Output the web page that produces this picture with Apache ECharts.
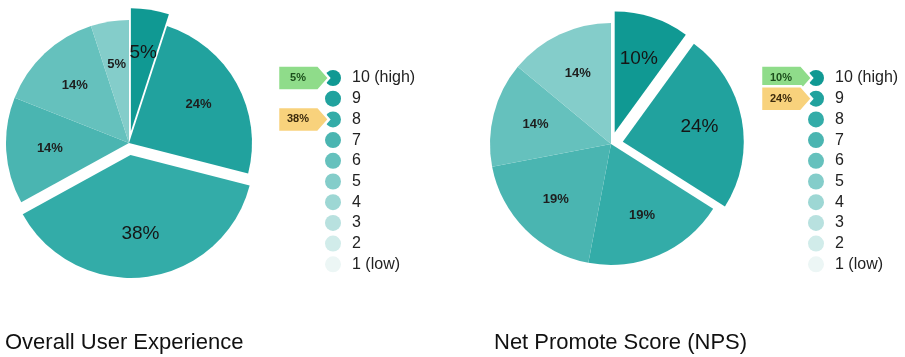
<!DOCTYPE html>
<html>
<head>
<meta charset="utf-8">
<script src="https://cdn.jsdelivr.net/npm/echarts@6/dist/echarts.min.js"></script>
<style>
  html, body { margin: 0; padding: 0; background: #fff; }
  #chart { width: 905px; height: 357px; }
</style>
</head>
<body>
<div id="chart"></div>
<script>
// score levels, top of legend first
const levels = ['10 (high)', '9', '8', '7', '6', '5', '4', '3', '2', '1 (low)'];
// percent of answers per level
const uxValues = [5, 24, 38, 14, 14, 5, 0, 0, 0, 0];
const npsValues = [10, 24, 19, 19, 14, 14, 0, 0, 0, 0];
// levels pulled out of the pie and tagged next to the legend (green, yellow)
const uxTagged = ['10 (high)', '8'];
const npsTagged = ['10 (high)', '9'];
const titles = ['Overall User Experience', 'Net Promote Score (NPS)'];

const palette = ['#109993', '#21a29e', '#33aca8', '#4ab5b1', '#65c1bd',
                 '#84cdca', '#9dd7d4', '#b8e1df', '#d1ecea', '#ecf6f5'];
const tagColors = [
    { fill: '#8fdc8a', text: '#1c4f1c' },
    { fill: '#f8d27c', text: '#3b2a0c' }
];

const font = '"Liberation Sans", Arial, Helvetica, sans-serif';
const bigLabel = { fontSize: 19, fontWeight: 'normal', color: '#151515' };
const smallLabel = { fontSize: 13, fontWeight: 'bold', color: '#1e1e1e' };

// layout of the two panels
const panels = [
    { values: uxValues, tagged: uxTagged, center: [129, 143], r: 123, legendLeft: 325, titleLeft: 5 },
    { values: npsValues, tagged: npsTagged, center: [611, 144], r: 121, legendLeft: 808, titleLeft: 494 }
];
const legendTop = 70;
const iconSize = 16;
const rowGap = 4.7;

function buildData(values, tagged, forLabels) {
    return levels.map((name, i) => {
        let sel = tagged.indexOf(name) >= 0;
        let item = {
            name: name,
            value: values[i],
            selected: sel,
            itemStyle: { color: forLabels ? 'rgba(0,0,0,0)' : palette[i] }
        };
        if (forLabels) {
            item.label = sel ? bigLabel : smallLabel;
        }
        return item;
    });
}

let series = [], legends = [], titleList = [], graphics = [];

panels.forEach((p, k) => {
    // the visible pie
    series.push({
        type: 'pie',
        center: p.center,
        radius: [0, p.r],
        startAngle: 90,
        clockwise: true,
        selectedMode: 'multiple',
        selectedOffset: 12,
        animation: false,
        silent: true,
        label: { show: false },
        labelLine: { show: false },
        itemStyle: { borderWidth: 0 },
        data: buildData(p.values, p.tagged, false)
    });
    // transparent copy carrying the labels a bit further out than mid radius
    series.push({
        type: 'pie',
        center: p.center,
        radius: [0, p.r * 1.24],
        startAngle: 90,
        clockwise: true,
        selectedMode: 'multiple',
        selectedOffset: 12,
        animation: false,
        silent: true,
        label: {
            show: true,
            position: 'inside',
            fontFamily: font,
            formatter: (prm) => prm.value ? prm.value + '%' : ''
        },
        labelLine: { show: false },
        data: buildData(p.values, p.tagged, true)
    });

    legends.push({
        orient: 'vertical',
        left: p.legendLeft,
        top: legendTop,
        padding: 0,
        icon: 'circle',
        itemWidth: iconSize,
        itemHeight: iconSize,
        itemGap: rowGap,
        selectedMode: false,
        data: levels,
        textStyle: {
            fontFamily: font,
            fontSize: 16,
            lineHeight: 16,
            color: '#222',
            padding: [0, 0, 0, 6]
        }
    });

    titleList.push({
        text: titles[k],
        left: p.titleLeft,
        top: 332,
        padding: 0,
        textStyle: { fontFamily: font, fontSize: 22, fontWeight: 'normal', color: '#111' }
    });

    // callout tags pointing at the legend markers of the pulled-out slices
    p.tagged.forEach((name, t) => {
        let idx = levels.indexOf(name);
        let cy = legendTop + iconSize / 2 + idx * (iconSize + rowGap);
        let tip = p.legendLeft + 4;
        let h = 25, body = 40, arrow = 11;
        let x0 = tip - arrow - body;
        graphics.push({
            type: 'polygon',
            z: 100,
            shape: {
                points: [[x0, cy - h / 2], [tip - arrow, cy - h / 2], [tip, cy],
                         [tip - arrow, cy + h / 2], [x0, cy + h / 2]]
            },
            style: { fill: tagColors[t].fill, stroke: '#fff', lineWidth: 2.5 }
        });
        graphics.push({
            type: 'text',
            z: 101,
            x: x0 + body / 2,
            y: cy,
            style: {
                text: p.values[idx] + '%',
                fill: tagColors[t].text,
                font: 'bold 11px ' + font,
                align: 'center',
                verticalAlign: 'middle'
            }
        });
    });
});

let chart = echarts.init(document.getElementById('chart'), null, { renderer: 'canvas' });
chart.setOption({
    animation: false,
    title: titleList,
    legend: legends,
    series: series,
    graphic: graphics
});
</script>
</body>
</html>
